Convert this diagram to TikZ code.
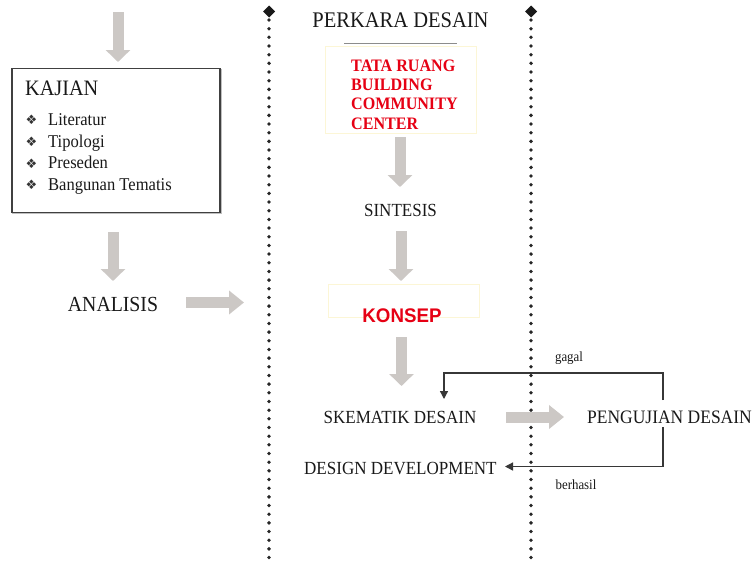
\documentclass[tikz,border=0pt]{standalone}
\usepackage{fontspec}
\setmainfont{Liberation Serif}[FakeStretch=0.92]
\newfontfamily\sansb{Liberation Sans}[FakeStretch=0.95]
\newfontfamily\djv{DejaVu Sans}
\usetikzlibrary{arrows.meta}
\definecolor{agray}{RGB}{204,200,197}
\definecolor{tred}{RGB}{230,0,20}
\definecolor{dline}{RGB}{55,55,55}
\definecolor{fyel}{RGB}{252,246,214}
\tikzset{
  vblk/.style={agray, line width=11pt, -{Triangle[width=24pt,length=12pt]}},
  hblk/.style={agray, line width=11pt, -{Triangle[width=23pt,length=15pt]}},
  dotline/.style={line width=3.8pt, line cap=round, dash pattern=on 0pt off 8.67pt, black!85},
  lbl/.style={inner sep=0pt, anchor=base, font=\fontsize{18.5}{20}\selectfont, text=black!90},
  loopline/.style={dline, line width=1.3pt, -{Triangle[width=8pt,length=8pt]}},
  item/.style={inner sep=0pt, anchor=base west, font=\fontsize{18}{20}\selectfont, text=black!90},
  bul/.style={inner sep=0pt, anchor=base, font=\djv\fontsize{13}{15}\selectfont, text=black!80},
  tline/.style={inner sep=0pt, anchor=base west, text=tred, font=\bfseries\fontsize{17.5}{19.4}\selectfont},
  small/.style={inner sep=0pt, anchor=base, font=\fontsize{14}{16}\selectfont, text=black!90},
  faint/.style={draw=fyel, line width=0.8pt, fill=white, inner sep=0pt}
}
\begin{document}
\begin{tikzpicture}[x=1pt,y=-1pt]
\useasboundingbox (0,0) rectangle (752,565);
\fill[white] (0,0) rectangle (752,565);

% dotted separators
\draw[dotline] (269,20) -- (269,565);
\draw[dotline] (531,20) -- (531,565);
\fill[black!90] (269,5.5) -- (275,11.5) -- (269,17.5) -- (263,11.5) -- cycle;
\fill[black!90] (531,5.5) -- (537,11.5) -- (531,17.5) -- (525,11.5) -- cycle;

% left column
\coordinate (a1s) at (118,12);
\coordinate (a1e) at (118,62);
\draw[vblk] (a1s) -- (a1e);

\fill[black!25] (12,69) rectangle (221.5,213.5);
\node[draw=black!75, line width=1.5pt, fill=white, anchor=north west,
      minimum width=208pt, minimum height=144pt, inner sep=0pt] (kaj) at (11,67.5) {};
\node[item, font=\fontsize{22}{24}\selectfont] (kt) at (25,95) {KAJIAN};
\node[bul] (b1) at (31.5,124.5) {❖};
\node[item] (i1) at (48,125) {Literatur};
\node[bul] (b2) at (31.5,146.5) {❖};
\node[item] (i2) at (48,147) {Tipologi};
\node[bul] (b3) at (31.5,168) {❖};
\node[item] (i3) at (48,168.5) {Preseden};
\node[bul] (b4) at (31.5,189.5) {❖};
\node[item] (i4) at (48,190) {Bangunan Tematis};

\coordinate (a2s) at (113,232);
\coordinate (a2e) at (113,281);
\draw[vblk] (a2s) -- (a2e);
\node[lbl, font=\fontsize{21.5}{23}\selectfont] (ana) at (113,311) {ANALISIS};
\coordinate (a3s) at (186,302.5);
\coordinate (a3e) at (244,302.5);
\draw[hblk] (a3s) -- (a3e);

% middle column
\node[lbl, font=\fontsize{22.3}{24}\selectfont] (per) at (400.5,27) {PERKARA DESAIN};
\draw[black!45, line width=1.3pt] (344,43.3) -- (457,43.3);
\node[faint, anchor=north west, minimum width=151pt, minimum height=87pt] (tbox) at (324.5,45.7) {};
\node[tline] (t1) at (351,71) {TATA RUANG};
\node[tline] (t2) at (351,90) {BUILDING};
\node[tline] (t3) at (351,109.5) {COMMUNITY};
\node[tline] (t4) at (351,129) {CENTER};

\coordinate (a4s) at (400,137);
\coordinate (a4e) at (400,187);
\draw[vblk] (a4s) -- (a4e);
\node[lbl] (sin) at (400.5,216) {SINTESIS};
\coordinate (a5s) at (401,231);
\coordinate (a5e) at (401,281);
\draw[vblk] (a5s) -- (a5e);

\node[faint, anchor=north west, minimum width=151pt, minimum height=33pt] (kbox) at (327.5,284) {};
\node[inner sep=0pt, anchor=base, text=tred, font=\sansb\bfseries\fontsize{19.7}{21}\selectfont] (kon) at (402,322) {KONSEP};

\coordinate (a6s) at (401.5,337);
\coordinate (a6e) at (401.5,386);
\draw[vblk] (a6s) -- (a6e);
\node[lbl] (ske) at (400,423) {SKEMATIK DESAIN};
\coordinate (a7s) at (506,417);
\coordinate (a7e) at (564,417);
\draw[hblk] (a7s) -- (a7e);
\node[lbl, anchor=base west, font=\fontsize{19}{21}\selectfont] (peng) at (587,423) {PENGUJIAN DESAIN};
\node[lbl, anchor=base west] (dd) at (304,474) {DESIGN DEVELOPMENT};

% feedback loops
\coordinate (gs) at (663,400);
\coordinate (ge) at (444,399);
\draw[loopline] (gs) -- (663,373) -- (444,373) -- (ge);
\coordinate (bs) at (663,427);
\coordinate (be) at (505,466.5);
\draw[loopline] (bs) -- (663,466.5) -- (be);
\node[small] (gag) at (569,361) {gagal};
\node[small] (ber) at (576,489) {berhasil};
\end{tikzpicture}
\end{document}
